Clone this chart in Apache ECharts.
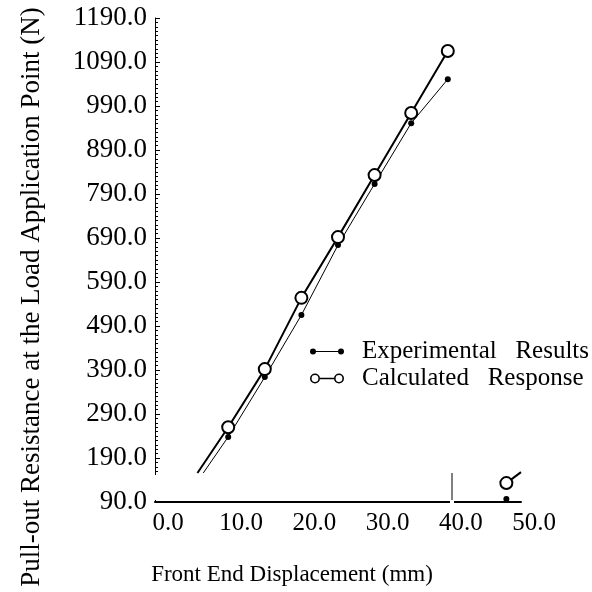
<!DOCTYPE html>
<html>
<head>
<meta charset="utf-8">
<script src="https://cdn.jsdelivr.net/npm/echarts@6/dist/echarts.min.js"></script>
<style>
html, body { margin: 0; padding: 0; background: #fff; }
#chart { width: 592px; height: 592px; }
</style>
</head>
<body>
<div id="chart"></div>
<script>
// front end displacement (mm)
const displacement = [10, 15, 20, 25, 30, 35, 40];
// pull-out resistance at the load application point (N)
const experimental = [238, 374, 515, 674, 813, 951, 1051];
const calculated = [260, 392, 554, 692, 833, 974, 1115];
// where the two lines run out at the bottom of the upper panel
const experimentalStart = [6.6, 156];
const calculatedStart = [5.8, 156];
// lower panel, past the axis break
const experimentalTail = [[48, 97]];
const calculatedTail = [[48, 133], [50, 158]];

const xMin = 0, xMax = 50, xStep = 10;
const yMin = 90, yMax = 1190, yStep = 100;

const serif = 'Liberation Serif';
const dotIcon = 'path://M0,5A3,3,0,1,1,6,5A3,3,0,1,1,0,5Z M28,5A3,3,0,1,1,34,5A3,3,0,1,1,28,5Z M3,4.5L31,4.5L31,5.5L3,5.5Z';
const ringIcon = 'path://M0,5A5,5,0,1,1,10,5A5,5,0,1,1,0,5Z M1.6,5A3.4,3.4,0,1,0,8.4,5A3.4,3.4,0,1,0,1.6,5Z M24,5A5,5,0,1,1,34,5A5,5,0,1,1,24,5Z M25.6,5A3.4,3.4,0,1,0,32.4,5A3.4,3.4,0,1,0,25.6,5Z M10,4.2L24,4.2L24,5.8L10,5.8Z';

const expName = 'Experimental   Results';
const calcName = 'Calculated   Response';

const chart = echarts.init(document.getElementById('chart'));

function pairs(xs, ys) {
  return xs.map((x, i) => [x, ys[i]]);
}

const calcStyle = {
  symbol: 'emptyCircle',
  symbolSize: 12,
  itemStyle: { color: '#000', borderWidth: 1.8 },
  lineStyle: { color: '#000', width: 2 }
};
const expStyle = {
  symbol: 'circle',
  symbolSize: 6,
  itemStyle: { color: '#000' },
  lineStyle: { color: '#000', width: 1 }
};

let option = {
  animation: false,
  backgroundColor: '#fff',
  grid: { left: 155, right: 71, top: 18, bottom: 90 },
  legend: {
    orient: 'vertical',
    left: 305,
    top: 333,
    itemWidth: 34,
    itemHeight: 10,
    itemGap: 0,
    textStyle: { fontFamily: serif, fontSize: 25, color: '#000', lineHeight: 27, padding: [0, 0, 0, 13] },
    data: [
      { name: expName, icon: dotIcon, itemStyle: { color: '#000', borderWidth: 0 } },
      { name: calcName, icon: ringIcon, itemStyle: { color: '#000', borderWidth: 0 } }
    ]
  },
  xAxis: {
    type: 'value',
    min: xMin,
    max: xMax,
    interval: xStep,
    axisLine: { lineStyle: { color: '#000', width: 2 } },
    axisTick: { show: false },
    splitLine: { show: false },
    axisLabel: {
      formatter: v => v.toFixed(1),
      fontFamily: serif, fontSize: 25, color: '#000',
      margin: 9, padding: [0, 0, 0, 26]
    },
    name: 'Front End Displacement (mm)',
    nameLocation: 'middle',
    nameGap: 61,
    nameTextStyle: { fontFamily: serif, fontSize: 23, color: '#000', padding: [0, 92, 0, 0] }
  },
  yAxis: {
    type: 'value',
    min: yMin,
    max: yMax,
    interval: yStep,
    axisLine: { show: true, lineStyle: { color: '#000', width: 1 } },
    axisTick: { show: true, inside: true, length: 5, lineStyle: { color: '#000' } },
    minorTick: { show: true, splitNumber: 10, length: 3, lineStyle: { color: '#000' } },
    splitLine: { show: false },
    axisLabel: {
      formatter: v => v.toFixed(1),
      fontFamily: serif, fontSize: 27, color: '#000', margin: 8
    }
  },
  graphic: [
    {
      type: 'text',
      x: 32, y: 297,
      rotation: Math.PI / 2,
      style: {
        text: 'Pull-out Resistance at the Load Application Point (N)',
        font: '27px "Liberation Serif"',
        fill: '#000',
        align: 'center',
        verticalAlign: 'middle'
      }
    },
    {
      // gap in the y axis line below the break
      type: 'rect',
      shape: { x: 150, y: 475, width: 10, height: 25 },
      style: { fill: '#fff' },
      z: 100
    },
    {
      // gap in the x axis line at the break
      type: 'rect',
      shape: { x: 450, y: 499, width: 4, height: 6 },
      style: { fill: '#fff' },
      z: 100
    },
    {
      // stub of the second panel's axis at the break
      type: 'line',
      shape: { x1: 452, y1: 473, x2: 452, y2: 500 },
      style: { stroke: '#000', lineWidth: 1 },
      z: 101
    }
  ],
  series: [
    Object.assign({
      name: expName,
      type: 'line',
      data: [{ value: experimentalStart, symbol: 'none' }].concat(pairs(displacement, experimental))
    }, expStyle),
    Object.assign({
      name: calcName,
      type: 'line',
      data: [{ value: calculatedStart, symbol: 'none' }].concat(pairs(displacement, calculated))
    }, calcStyle),
    Object.assign({
      type: 'line',
      data: experimentalTail
    }, expStyle),
    Object.assign({
      type: 'line',
      data: [calculatedTail[0], { value: calculatedTail[1], symbol: 'none' }]
    }, calcStyle)
  ]
};

chart.setOption(option);
</script>
</body>
</html>
